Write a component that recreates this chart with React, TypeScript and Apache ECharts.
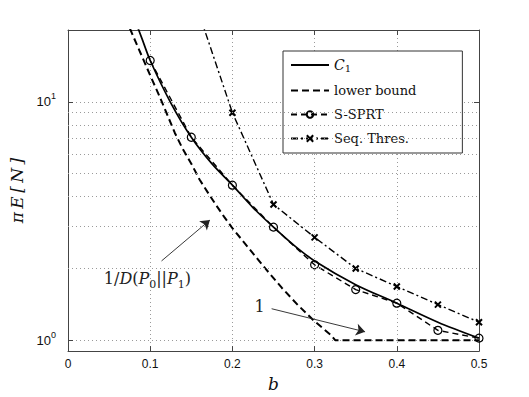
import React, { useEffect, useRef } from 'react';
import * as echarts from 'echarts';

// ---- data ----
const c1B = [0.08, 0.09, 0.1, 0.125, 0.15, 0.175, 0.2, 0.225, 0.25, 0.275, 0.3, 0.35, 0.4, 0.45, 0.5];
const c1V = [22.7, 18.4, 14.9, 9.9, 7.1, 5.5, 4.47, 3.6, 2.98, 2.5, 2.15, 1.71, 1.43, 1.19, 1.02];

const lbB = [0.07, 0.08, 0.09, 0.1, 0.11, 0.12, 0.13, 0.14, 0.15, 0.16, 0.17, 0.18, 0.19, 0.2, 0.22, 0.24, 0.26, 0.28, 0.3, 0.32, 0.325, 0.35, 0.4, 0.45, 0.5];
const lbV = [22.4, 18.6, 15.5, 12.9, 10.8, 8.95, 7.4, 6.3, 5.5, 4.72, 4.17, 3.69, 3.29, 2.95, 2.43, 2.0, 1.66, 1.4, 1.2, 1.05, 1.0, 1.0, 1.0, 1.0, 1.0];

const sprtB = [0.1, 0.15, 0.2, 0.25, 0.3, 0.35, 0.4, 0.45, 0.5];
const sprtV = [14.9, 7.1, 4.47, 2.98, 2.07, 1.63, 1.43, 1.1, 1.02];

const seqB = [0.15, 0.2, 0.25, 0.3, 0.35, 0.4, 0.45, 0.5];
const seqV = [29.3, 9.0, 3.71, 2.7, 2.0, 1.68, 1.41, 1.19];

const yMinorGrid = [2, 3, 4, 5, 6, 7, 8, 9];

const arrowKL = [[0.1138, 2.15], [0.1726, 3.19]];
const arrowOne = [[0.2477, 1.355], [0.3614, 1.084]];
const labelKLPos = [0.0966, 1.81];
const labelOnePos = [0.233, 1.38];

const names = ['C1', 'lower bound', 'S-SPRT', 'Seq. Thres.'];

const zip = (a: number[], b: number[]) => a.map((x, i) => [x, b[i]]);

export default function App() {
  const ref = useRef<HTMLDivElement>(null);
  useEffect(() => {
    const chart = echarts.init(ref.current!, null, { renderer: 'svg' });
    const serif = "'DejaVu Serif', serif";
    const sans = "'Liberation Sans', Arial, sans-serif";
    const axisCol = '#444';
    const gridLine = { type: [1, 3], color: '#9a9a9a', width: 1 };
    chart.setOption({
      animation: false,
      backgroundColor: '#fff',
      grid: { left: 68, right: 50, top: 30, bottom: 45, show: false },
      legend: {
        data: names.map((n, i) => (i < 2 ? { name: n, itemStyle: { opacity: 0 } } : { name: n })),
        orient: 'vertical',
        left: 283,
        top: 51,
        itemWidth: 38,
        itemHeight: 8,
        itemGap: 11,
        padding: [7, 46, 8, 7],
        borderColor: '#333',
        borderWidth: 1,
        backgroundColor: '#fff',
        selectedMode: false,
        formatter: (n: string) => (n === 'C1' ? '{i|C}{s|1}' : '{t|' + n + '}'),
        textStyle: {
          fontFamily: serif,
          fontSize: 13,
          color: '#111',
          rich: {
            t: { fontFamily: serif, fontSize: 13, color: '#111', lineHeight: 16 },
            i: { fontFamily: serif, fontStyle: 'italic', fontSize: 14, color: '#111', lineHeight: 16 },
            s: { fontFamily: serif, fontSize: 10, color: '#111', lineHeight: 11, verticalAlign: 'bottom' },
          },
        },
      },
      xAxis: [
        {
          type: 'value', min: 0, max: 0.5, interval: 0.1, position: 'bottom',
          axisLine: { show: true, onZero: false, lineStyle: { color: axisCol } },
          axisTick: { show: true, inside: true, length: 5, lineStyle: { color: axisCol } },
          axisLabel: { color: '#111', fontFamily: sans, fontSize: 12, margin: 7 },
          splitLine: { show: true, lineStyle: gridLine },
          name: 'b', nameLocation: 'middle', nameGap: 17,
          nameTextStyle: { fontFamily: serif, fontStyle: 'italic', fontSize: 17, color: '#111' },
        },
        {
          type: 'value', min: 0, max: 0.5, interval: 0.1, position: 'top',
          axisLine: { show: true, onZero: false, lineStyle: { color: axisCol } },
          axisTick: { show: true, inside: true, length: 5, lineStyle: { color: axisCol } },
          axisLabel: { show: false },
          splitLine: { show: false },
        },
      ],
      yAxis: [
        {
          type: 'log', logBase: 10, min: 0.9, max: 20, position: 'left',
          axisLine: { show: true, onZero: false, lineStyle: { color: axisCol } },
          axisTick: { show: true, inside: true, length: 5, lineStyle: { color: axisCol } },
          axisLabel: {
            margin: 12,
            formatter: (v: number) =>
              Math.abs(v - 1) < 1e-6 ? '{b|10}{s|0}' : Math.abs(v - 10) < 1e-6 ? '{b|10}{s|1}' : '',
            rich: {
              b: { fontFamily: sans, fontSize: 13, color: '#111', lineHeight: 20 },
              s: { fontFamily: sans, fontSize: 9, color: '#111', lineHeight: 10, verticalAlign: 'top' },
            },
          },
          splitLine: { show: true, lineStyle: gridLine },
          name: 'π\u2009E\u2009[\u2009N\u2009]', nameLocation: 'middle', nameGap: 26, nameRotate: 90,
          nameTextStyle: { fontFamily: serif, fontStyle: 'italic', fontSize: 17, color: '#111' },
        },
        {
          type: 'log', logBase: 10, min: 0.9, max: 20, position: 'right',
          axisLine: { show: true, onZero: false, lineStyle: { color: axisCol } },
          axisTick: { show: true, inside: true, length: 5, lineStyle: { color: axisCol } },
          axisLabel: { show: false },
          splitLine: { show: false },
        },
      ],
      series: [
        {
          name: 'gridlines', type: 'line', data: [], z: 1, silent: true,
          markLine: {
            silent: true, symbol: ['none', 'none'], label: { show: false },
            lineStyle: gridLine, emphasis: { disabled: true },
            data: yMinorGrid.map((y) => ({ yAxis: y })),
          },
        },
        {
          name: 'C1', type: 'line', data: zip(c1B, c1V), smooth: 0.3, symbol: 'none', z: 5,
          lineStyle: { color: '#000', width: 1.7, type: 'solid' }, itemStyle: { color: '#000' },
        },
        {
          name: 'lower bound', type: 'line', data: zip(lbB, lbV), symbol: 'none', z: 4,
          lineStyle: { color: '#000', width: 2, type: [7, 4] }, itemStyle: { color: '#000' },
        },
        {
          name: 'S-SPRT', type: 'line', data: zip(sprtB, sprtV), symbol: 'circle', symbolSize: 8, showSymbol: true, z: 4,
          lineStyle: { color: '#000', width: 1.4, type: [6, 4] },
          itemStyle: { color: 'rgba(0,0,0,0)', borderColor: '#000', borderWidth: 1.2 },
        },
        {
          name: 'Seq. Thres.', type: 'line', data: zip(seqB, seqV), symbol: 'path://M0,0L10,10M10,0L0,10', symbolSize: 6, showSymbol: true, z: 4,
          lineStyle: { color: '#000', width: 1.4, type: [7, 3, 2, 3] },
          itemStyle: { color: '#000', borderColor: '#000', borderWidth: 2 },
        },
        {
          name: 'annotations', type: 'line', data: [], z: 6, silent: true,
          markLine: {
            silent: true, symbol: ['none', 'arrow'], symbolSize: 9, label: { show: false },
            lineStyle: { color: '#222', width: 0.9, type: 'solid' }, emphasis: { disabled: true },
            data: [
              [{ coord: arrowKL[0] }, { coord: arrowKL[1] }],
              [{ coord: arrowOne[0] }, { coord: arrowOne[1] }],
            ],
          },
          markPoint: {
            silent: true, symbol: 'circle', symbolSize: 0, itemStyle: { color: 'rgba(0,0,0,0)' },
            label: {
              show: true, position: 'inside', color: '#222',
              rich: {
                r: { fontFamily: serif, fontSize: 16, color: '#222', lineHeight: 22 },
                i: { fontFamily: serif, fontStyle: 'italic', fontSize: 16, color: '#222', lineHeight: 22 },
                s: { fontFamily: serif, fontSize: 11, color: '#222', lineHeight: 14, verticalAlign: 'bottom' },
              },
            },
            data: [
              { coord: labelKLPos, value: 0, label: { formatter: '{r|1/}{i|D}{r|(}{i|P}{s|0}{r|||}{i|P}{s|1}{r|)}' } },
              { coord: labelOnePos, value: 0, label: { formatter: '{r|1}' } },
            ],
          },
        },
      ],
    });
    return () => chart.dispose();
  }, []);
  return <div ref={ref} style={{ position: 'fixed', left: 0, top: 0, width: 529, height: 397 }} />;
}
